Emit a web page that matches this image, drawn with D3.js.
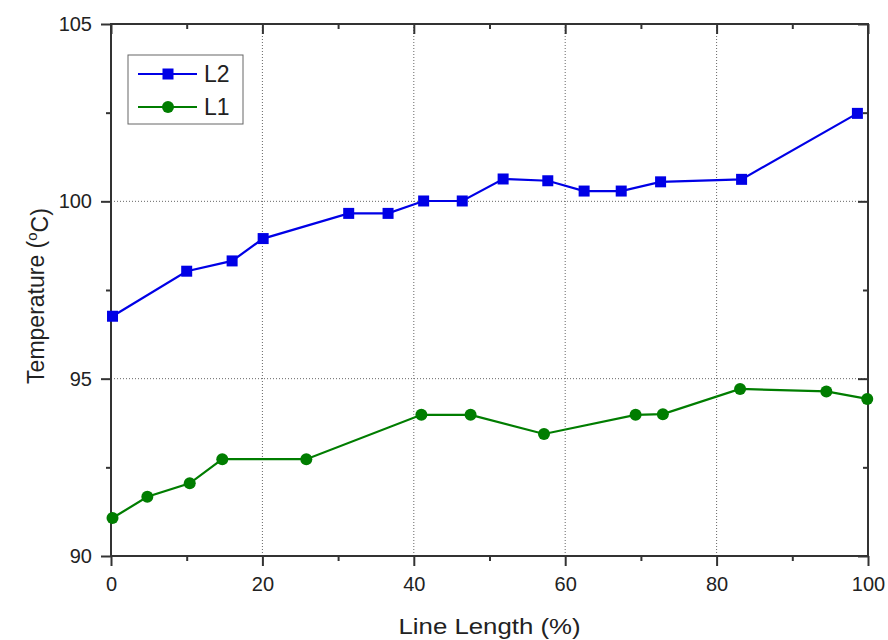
<!DOCTYPE html>
<html>
<head>
<meta charset="utf-8">
<script src="https://cdn.jsdelivr.net/npm/d3@7"></script>
<style>
  body { margin: 0; background: #fff; }
  svg { display: block; font-family: "Liberation Sans", Arial, sans-serif; }
</style>
</head>
<body>
<svg id="chart"></svg>
<script>
// data
const l2X = [0.2, 10.0, 16.0, 20.1, 31.4, 36.6, 41.3, 46.4, 51.8, 57.7, 62.5, 67.4, 72.6, 83.3, 98.6];
const l2Y = [96.76, 98.03, 98.32, 98.95, 99.66, 99.66, 100.01, 100.01, 100.63, 100.58, 100.29, 100.29, 100.55, 100.62, 102.48];
const l1X = [0.2, 4.8, 10.4, 14.7, 25.8, 41.0, 47.5, 57.2, 69.3, 72.9, 83.1, 94.5, 99.9];
const l1Y = [91.07, 91.67, 92.05, 92.73, 92.73, 93.98, 93.98, 93.44, 93.98, 94.0, 94.71, 94.64, 94.43];
const xTicks = [0, 20, 40, 60, 80, 100];
const xMinor = [10, 30, 50, 70, 90];
const yTicks = [90, 95, 100, 105];
const yMinor = [92.5, 97.5, 102.5];

const svgWidth = 888, svgHeight = 640;
const margin = { top: 24, right: 20, bottom: 84, left: 111 };
const width = 868 - margin.left;
const height = 556 - margin.top;

const svg = d3.select("#chart").attr("width", svgWidth).attr("height", svgHeight);
const g = svg.append("g").attr("transform", `translate(${margin.left},${margin.top})`);

const x = d3.scaleLinear().domain([0, 100]).range([0, width]);
const y = d3.scaleLinear().domain([90, 105]).range([height, 0]);

const axisColor = "#333";

// dotted grid
g.selectAll(".gx").data(xTicks.slice(1, -1)).enter().append("line")
  .attr("x1", d => x(d)).attr("x2", d => x(d))
  .attr("y1", 0).attr("y2", height)
  .attr("stroke", "#666").attr("stroke-width", 1).attr("stroke-dasharray", "1,2");
g.selectAll(".gy").data(yTicks.slice(1, -1)).enter().append("line")
  .attr("y1", d => y(d)).attr("y2", d => y(d))
  .attr("x1", 0).attr("x2", width)
  .attr("stroke", "#666").attr("stroke-width", 1).attr("stroke-dasharray", "1,2");

// axes: outward ticks bottom/left, inward mirror ticks top/right
const styleAxis = sel => {
  sel.select(".domain").remove();
  sel.selectAll(".tick line").attr("stroke", axisColor).attr("stroke-width", 2);
  sel.selectAll(".tick text").attr("fill", "#222").style("font-size", "20px")
    .style("font-family", "Liberation Sans, Arial, sans-serif");
};

g.append("g").attr("transform", `translate(0,${height})`)
  .call(d3.axisBottom(x).tickValues(xTicks).tickSize(10).tickPadding(11).tickFormat(d3.format("d")))
  .call(styleAxis);
g.append("g").attr("transform", `translate(0,${height})`)
  .call(d3.axisBottom(x).tickValues(xMinor).tickSize(5).tickFormat(""))
  .call(styleAxis);
g.append("g")
  .call(d3.axisLeft(y).tickValues(yTicks).tickSize(10).tickPadding(9).tickFormat(d3.format("d")))
  .call(styleAxis);
g.append("g")
  .call(d3.axisLeft(y).tickValues(yMinor).tickSize(5).tickFormat(""))
  .call(styleAxis);
g.append("g")
  .call(d3.axisTop(x).tickValues(xTicks).tickSize(-10).tickFormat(""))
  .call(styleAxis);
g.append("g")
  .call(d3.axisTop(x).tickValues(xMinor).tickSize(-5).tickFormat(""))
  .call(styleAxis);
g.append("g").attr("transform", `translate(${width},0)`)
  .call(d3.axisRight(y).tickValues(yTicks).tickSize(-10).tickFormat(""))
  .call(styleAxis);
g.append("g").attr("transform", `translate(${width},0)`)
  .call(d3.axisRight(y).tickValues(yMinor).tickSize(-5).tickFormat(""))
  .call(styleAxis);

// frame
g.append("rect").attr("width", width).attr("height", height)
  .attr("fill", "none").attr("stroke", axisColor).attr("stroke-width", 2);

// series
const series = [
  { name: "L2", xs: l2X, ys: l2Y, color: "#0000e6", marker: "square" },
  { name: "L1", xs: l1X, ys: l1Y, color: "#007d00", marker: "circle" }
];

const line = d3.line().x(d => x(d[0])).y(d => y(d[1]));

series.forEach(s => {
  const pts = s.xs.map((v, i) => [v, s.ys[i]]);
  g.append("path").datum(pts)
    .attr("fill", "none").attr("stroke", s.color).attr("stroke-width", 2.2)
    .attr("d", line);
  if (s.marker === "square") {
    g.selectAll(null).data(pts).enter().append("rect")
      .attr("x", d => x(d[0]) - 5.5).attr("y", d => y(d[1]) - 5.5)
      .attr("width", 11).attr("height", 11).attr("fill", s.color);
  } else {
    g.selectAll(null).data(pts).enter().append("circle")
      .attr("cx", d => x(d[0])).attr("cy", d => y(d[1])).attr("r", 6)
      .attr("fill", s.color);
  }
});

// legend
const legend = svg.append("g").attr("transform", "translate(128,55)");
legend.append("rect").attr("width", 115).attr("height", 69)
  .attr("fill", "#fff").attr("stroke", "#666").attr("stroke-width", 1);
series.forEach((s, i) => {
  const ly = 19 + i * 33;
  const row = legend.append("g").attr("transform", `translate(0,${ly})`);
  row.append("line").attr("x1", 10).attr("x2", 69).attr("y1", 0).attr("y2", 0)
    .attr("stroke", s.color).attr("stroke-width", 2.2);
  if (s.marker === "square") {
    row.append("rect").attr("x", 34.5).attr("y", -5.5).attr("width", 11).attr("height", 11).attr("fill", s.color);
  } else {
    row.append("circle").attr("cx", 40).attr("cy", 0).attr("r", 6).attr("fill", s.color);
  }
  row.append("text").attr("x", 76).attr("y", 0).attr("dy", "0.36em")
    .style("font-size", "23px").attr("fill", "#222").text(s.name);
});

// axis titles
svg.append("text")
  .attr("x", margin.left + width / 2).attr("y", 634)
  .attr("text-anchor", "middle").style("font-size", "22px").attr("fill", "#222")
  .attr("textLength", 182).attr("lengthAdjust", "spacingAndGlyphs")
  .text("Line Length (%)");

const yTitle = svg.append("text")
  .attr("transform", `translate(44,${margin.top + height / 2 + 6}) rotate(-90)`)
  .attr("text-anchor", "middle").style("font-size", "23px").attr("fill", "#222");
yTitle.append("tspan").text("Temperature (");
yTitle.append("tspan").attr("dy", "-0.45em").style("font-size", "15px").text("o");
yTitle.append("tspan").attr("dy", "0.45em").text("C)");
</script>
</body>
</html>
